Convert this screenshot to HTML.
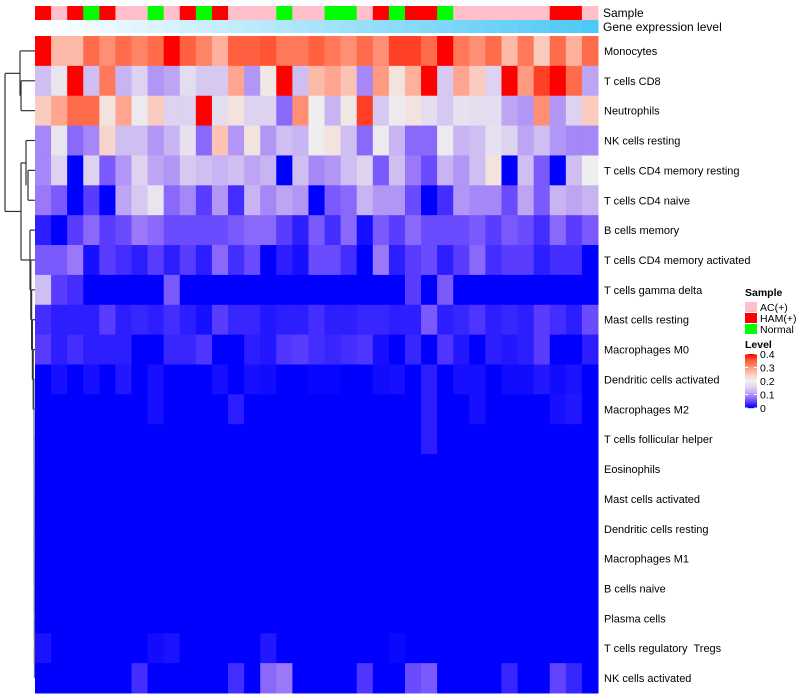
<!DOCTYPE html>
<html><head><meta charset="utf-8">
<style>
body{margin:0;background:#fff;width:800px;height:700px;overflow:hidden;font-family:"Liberation Sans",Arial,sans-serif;}
svg{display:block}
#labels text{white-space:pre}
</style></head>
<body>
<svg id="chart" width="800" height="700" xmlns="http://www.w3.org/2000/svg">
<g id="dendro" stroke="#333" stroke-width="1.2" fill="none"></g>
<g id="annot"></g>
<g id="cells"></g>
<g id="labels" font-size="11" fill="#000"></g>
<text x="603" y="17" font-size="12">Sample</text>
<text x="603" y="31" font-size="12">Gene expression level</text>
<g id="legend" font-size="10.5"></g>
</svg>
<script>
const rowNames=["Monocytes","T cells CD8","Neutrophils","NK cells resting","T cells CD4 memory resting","T cells CD4 naive","B cells memory","T cells CD4 memory activated","T cells gamma delta","Mast cells resting","Macrophages M0","Dendritic cells activated","Macrophages M2","T cells follicular helper","Eosinophils","Mast cells activated","Dendritic cells resting","Macrophages M1","B cells naive","Plasma cells","T cells regulatory  Tregs","NK cells activated"];
const sampleGroups=["HAM(+)","AC(+)","HAM(+)","Normal","HAM(+)","AC(+)","AC(+)","Normal","AC(+)","HAM(+)","Normal","HAM(+)","AC(+)","AC(+)","AC(+)","Normal","AC(+)","AC(+)","Normal","Normal","AC(+)","HAM(+)","Normal","HAM(+)","HAM(+)","Normal","AC(+)","AC(+)","AC(+)","AC(+)","AC(+)","AC(+)","HAM(+)","HAM(+)","AC(+)"];
const legendTicks=[0.4,0.3,0.2,0.1,0];
const rowMonocytes=[0.4,0.27,0.27,0.34,0.31,0.34,0.32,0.34,0.4,0.35,0.32,0.28,0.35,0.35,0.36,0.33,0.33,0.35,0.33,0.31,0.34,0.31,0.37,0.37,0.34,0.4,0.33,0.31,0.34,0.27,0.33,0.25,0.34,0.28,0.34];
const rowCD8=[0.13,0.18,0.4,0.13,0.33,0.12,0.15,0.1,0.11,0.16,0.14,0.14,0.29,0.1,0.21,0.4,0.13,0.27,0.29,0.26,0.09,0.3,0.22,0.28,0.4,0.14,0.29,0.25,0.15,0.4,0.3,0.37,0.4,0.34,0.11];
const rowNeut=[0.25,0.29,0.34,0.34,0.22,0.29,0.19,0.25,0.15,0.15,0.4,0.16,0.22,0.15,0.15,0.07,0.31,0.2,0.12,0.21,0.37,0.14,0.19,0.22,0.16,0.14,0.17,0.16,0.16,0.11,0.1,0.31,0.1,0.15,0.25];
const rowNKrest=[0.09,0.18,0.07,0.09,0.24,0.13,0.13,0.1,0.12,0.17,0.07,0.26,0.1,0.22,0.1,0.13,0.12,0.2,0.22,0.13,0.07,0.19,0.12,0.07,0.07,0.19,0.12,0.13,0.17,0.15,0.11,0.13,0.1,0.09,0.09];
const rowCD4memrest=[0.09,0.15,0,0.15,0.06,0.1,0.15,0.11,0.1,0.14,0.13,0.12,0.13,0.11,0.12,0,0.13,0.09,0.1,0.13,0.15,0.06,0.13,0.08,0.05,0.12,0.1,0.13,0.22,0,0.13,0.06,0,0.13,0.2];
const rowCD4naive=[0.08,0.06,0,0.04,0,0.11,0.14,0.18,0.07,0.09,0.04,0.1,0.03,0.12,0.09,0.11,0.1,0,0.06,0.07,0.12,0.1,0.1,0.05,0,0.03,0.1,0.09,0.09,0.05,0.11,0.06,0.12,0.11,0.12];
const rowBmem=[0.02,0,0.04,0.07,0.04,0.05,0.08,0.07,0.05,0.05,0.05,0.05,0.06,0.07,0.07,0.04,0.02,0.06,0.03,0.07,0.01,0.06,0.04,0.07,0.05,0.05,0.05,0.06,0.04,0.06,0.05,0.03,0.07,0.04,0.06];
const rowCD4memact=[0.06,0.06,0.08,0.01,0.04,0.03,0.02,0.04,0.02,0.04,0.02,0.07,0.03,0.05,0,0.02,0.01,0.05,0.05,0.03,0,0.08,0.02,0.04,0.05,0.02,0.04,0.07,0.03,0.04,0.04,0.02,0.03,0.03,0];
const rowGD=[0.13,0.04,0.03,0,0,0,0,0,0.06,0,0,0,0,0,0,0,0,0,0,0,0,0,0,0.04,0,0.06,0,0,0,0,0,0,0,0,0];
const rowMastrest=[0.03,0.02,0.02,0.02,0.04,0.02,0.025,0.02,0.03,0.02,0.01,0.04,0.025,0.025,0.015,0.02,0.02,0.03,0.02,0.02,0.025,0.025,0.02,0.02,0.06,0.02,0.025,0.035,0.02,0.025,0.02,0.04,0.03,0.02,0.05];
const rowM0=[0.04,0.02,0.03,0.02,0.02,0.02,0,0,0.025,0.025,0.035,0,0,0.02,0.015,0.035,0.04,0.03,0.025,0.03,0.035,0.01,0,0.025,0,0.035,0.015,0,0.02,0.015,0.02,0.04,0,0,0.02];
const rowDCact=[0,0.01,0,0.01,0,0.015,0,0.01,0,0,0,0.01,0,0.01,0.008,0,0,0.003,0.003,0,0,0.008,0.01,0,0.02,0,0.01,0.01,0,0.008,0.008,0.015,0.008,0.012,0];
const rowM2=[0,0,0,0,0,0,0,0.01,0,0,0,0,0.02,0,0,0,0,0,0,0,0,0,0,0,0.02,0,0,0.01,0,0,0,0,0.01,0.015,0];
const rowTfh=[0,0,0,0,0,0,0,0,0,0,0,0,0,0,0,0,0,0,0,0,0,0,0,0,0.02,0,0,0,0,0,0,0,0,0,0];
const rowZero=[0,0,0,0,0,0,0,0,0,0,0,0,0,0,0,0,0,0,0,0,0,0,0,0,0,0,0,0,0,0,0,0,0,0,0];
const rowTregs=[0.012,0,0,0,0,0,0,0.008,0.012,0,0,0,0,0,0.015,0,0,0,0,0,0,0,0.005,0,0,0,0,0,0,0,0,0,0,0,0];
const rowNKact=[0,0,0,0,0,0,0.03,0,0,0,0,0,0.03,0,0.07,0.08,0,0,0,0,0.035,0,0,0.05,0.06,0,0,0,0,0.025,0,0,0.045,0.025,0];
const values=[rowMonocytes,rowCD8,rowNeut,rowNKrest,rowCD4memrest,rowCD4naive,rowBmem,rowCD4memact,rowGD,rowMastrest,rowM0,rowDCact,rowM2,rowTfh,rowZero,rowZero,rowZero,rowZero,rowZero,rowZero,rowTregs,rowNKact];

const NS="http://www.w3.org/2000/svg";
const X0=35,X1=598,Y0=36,Y1=693;
const nCol=sampleGroups.length,nRow=rowNames.length;
const cw=(X1-X0)/nCol,ch=(Y1-Y0)/nRow;
const xPos=i=>X0+i*cw, yPos=r=>Y0+r*ch;
const groupColor={"AC(+)":"#FFC0CB","HAM(+)":"#FF0000","Normal":"#00FF00"};
const stops=[[0,[0,0,255]],[0.04,[90,60,255]],[0.08,[154,120,248]],[0.12,[200,180,242]],[0.16,[228,220,239]],[0.2,[238,238,238]],[0.24,[248,213,204]],[0.28,[255,176,156]],[0.32,[255,132,102]],[0.36,[255,85,51]],[0.4,[255,0,0]]];
function colorOf(v){v=Math.max(0,Math.min(0.4,v));for(let i=1;i<stops.length;i++){if(v<=stops[i][0]){const a=stops[i-1],b=stops[i],t=(v-a[0])/(b[0]-a[0]);const c=a[1].map((x,k)=>Math.round(x+(b[1][k]-x)*t));return `rgb(${c})`;}}return "rgb(255,0,0)";}
function mk(tag,attrs,parent){const e=document.createElementNS(NS,tag);for(const k in attrs)e.setAttribute(k,attrs[k]);parent.appendChild(e);return e;}

const annot=document.getElementById('annot');
sampleGroups.forEach((g,i)=>{
 const r=mk('rect',{x:xPos(i),y:6,width:cw+0.5,height:14,fill:groupColor[g]},annot);
 
 
 const t=i/(nCol-1);
 const c=[255+(79-255)*t,255+(200-255)*t,255+(245-255)*t].map(Math.round);
 const r2=mk('rect',{x:xPos(i),y:20,width:cw+0.5,height:13,fill:`rgb(${c})`},annot);
 
 
});
const cells=document.getElementById('cells');
values.forEach((row,r)=>row.forEach((v,i)=>{
 const e=mk('rect',{x:xPos(i),y:yPos(r),width:cw+0.5,height:ch+0.5,fill:colorOf(v)},cells);
 
 
}));
const labels=document.getElementById('labels');
rowNames.forEach((n,r)=>{
 const t=mk('text',{x:604,y:yPos(r)+ch/2+4},labels);t.textContent=n;
 
 
});
const d=document.getElementById('dendro');
const yc=r=>yPos(r)+ch/2;
function line(x1,y1,x2,y2,col){mk('line',{x1,y1,x2,y2,stroke:col||'#333'},d);}
line(21,yc(1),35,yc(1));line(21,yc(2),35,yc(2));line(21,yc(1),21,yc(2));
line(20,yc(0),35,yc(0));line(20,yc(0),20,(yc(1)+yc(2))/2);
const topMid=(yc(0)+(yc(1)+yc(2))/2)/2;
line(5,topMid,20,topMid);
line(28,yc(4),35,yc(4));line(28,yc(5),35,yc(5));line(28,yc(4),28,yc(5));
line(26,yc(3),35,yc(3));line(26,yc(3),26,(yc(4)+yc(5))/2);
const c46=(yc(3)+(yc(4)+yc(5))/2)/2;
let prevY=yc(nRow-1),prevX=34.5;
for(let r=nRow-2;r>=6;r--){
 const x=r>=11?34.5-(21-r)*0.05:34-(11-r)*0.8;
 const col=r>=11?'#777':'#333';
 line(x,yc(r),35,yc(r),col);
 line(x,yc(r),x,prevY,col);
 if(prevX<35)line(x,prevY,prevX,prevY,col);
 prevY=(yc(r)+prevY)/2;prevX=x;
}
const lowX=21;
line(lowX,c46,26,c46);line(lowX,prevY,prevX,prevY);line(lowX,c46,lowX,prevY);
const botMid=(c46+prevY)/2;
line(5,botMid,lowX,botMid);line(5,topMid,5,botMid);
const lg=document.getElementById('legend');
const st=mk('text',{x:745,y:296,'font-weight':'bold'},lg);st.textContent='Sample';


Object.keys(groupColor).forEach((g,i)=>{
 const r=mk('rect',{x:745,y:302+i*11,width:12,height:10,fill:groupColor[g]},lg);
 
 
 const t=mk('text',{x:760,y:311+i*11},lg);t.textContent=g;
 
 
});
const lt=mk('text',{x:745,y:348,'font-weight':'bold'},lg);lt.textContent='Level';


const gy0=354,gy1=408;
for(let k=0;k<54;k++){const v=0.4*(1-k/53);mk('rect',{x:745,y:gy0+k,width:12,height:1.2,fill:colorOf(v)},lg);}
legendTicks.forEach(v=>{
 const y=gy1-(v/0.4)*(gy1-gy0);
 mk('line',{x1:745,y1:y,x2:748,y2:y,stroke:'#fff'},lg);
 mk('line',{x1:754,y1:y,x2:757,y2:y,stroke:'#fff'},lg);
 const t=mk('text',{x:760,y:y+4},lg);t.textContent=String(v);
 
 
});
</script>
</body></html>
